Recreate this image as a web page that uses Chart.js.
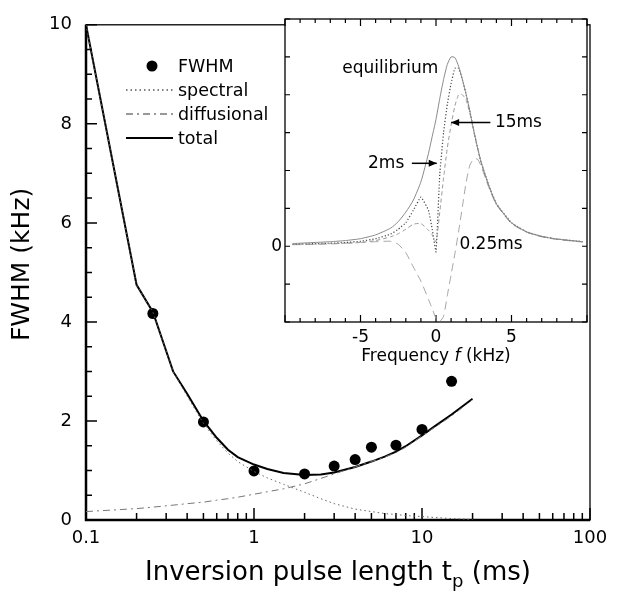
<!DOCTYPE html>
<html>
<head>
<meta charset="utf-8">
<script src="https://cdn.jsdelivr.net/npm/chart.js@4.4.0/dist/chart.umd.min.js"></script>
<style>
  html, body { margin: 0; padding: 0; background: #fff; }
  #wrap { position: relative; width: 633px; height: 597px; }
  #mainChart { position: absolute; left: 0; top: 0; }
  #insetChart { position: absolute; left: 240px; top: 0; }
</style>
</head>
<body>
<div id="wrap">
  <canvas id="mainChart" width="633" height="597"></canvas>
  <canvas id="insetChart" width="360" height="372"></canvas>
</div>
<script>
// ---- main panel data ----
const pulseMs = [0.25, 0.5, 1, 2, 3, 4, 5, 7, 10, 15];
const fwhmKHz = [4.17, 1.98, 0.99, 0.93, 1.09, 1.22, 1.47, 1.51, 1.83, 2.8];

const fitMs = [0.1, 0.2, 0.25, 0.33, 0.4, 0.5, 0.6, 0.7, 0.8, 1, 1.2, 1.5, 2, 2.5, 3, 4, 5, 6, 7, 8, 10, 12, 15, 20];
const totalFit = [10, 4.75, 4.2, 3.0, 2.55, 2.0, 1.66, 1.42, 1.27, 1.12, 1.03, 0.95, 0.91, 0.92, 0.96, 1.07, 1.18, 1.28, 1.38, 1.49, 1.71, 1.9, 2.13, 2.45];
const spectralFit = [10, 4.75, 4.2, 3.0, 2.5, 1.95, 1.6, 1.35, 1.18, 0.98, 0.85, 0.72, 0.56, 0.43, 0.33, 0.22, 0.17, 0.13, 0.11, 0.09, 0.07, 0.05, 0.03, 0.01];
const diffusionalFit = [0.17, 0.23, 0.26, 0.3, 0.33, 0.36, 0.4, 0.43, 0.46, 0.52, 0.57, 0.63, 0.73, 0.84, 0.93, 1.07, 1.18, 1.27, 1.36, 1.47, 1.7, 1.88, 2.1, 2.43];

const xMajorTicks = [0.1, 1, 10, 100];
const yMajorTicks = [0, 2, 4, 6, 8, 10];

// ---- inset data ----
const freqKHz = [-9.5, -8, -7, -6, -5, -4, -3, -2.5, -2, -1.5, -1, -0.5, -0.25, 0, 0.25, 0.5, 0.75, 1, 1.25, 1.5, 1.75, 2, 2.25, 2.5, 2.75, 3, 3.5, 4, 5, 6, 7, 8, 9.7];
const equilibrium = [0.07, 0.1, 0.12, 0.15, 0.2, 0.3, 0.48, 0.65, 0.9, 1.22, 1.7, 2.45, 2.9, 3.35, 3.9, 4.4, 4.8, 5.0, 4.98, 4.75, 4.4, 4.0, 3.55, 3.05, 2.6, 2.2, 1.6, 1.12, 0.62, 0.38, 0.26, 0.19, 0.12];
const spec2ms = [0.05, 0.07, 0.08, 0.1, 0.13, 0.2, 0.32, 0.45, 0.62, 0.95, 1.3, 0.95, 0.45, -0.15, 1.9, 3.0, 3.75, 4.3, 4.7, 4.7, 4.4, 4.0, 3.55, 3.05, 2.6, 2.2, 1.6, 1.12, 0.62, 0.38, 0.26, 0.19, 0.12];
const spec15ms = [0.05, 0.06, 0.07, 0.08, 0.1, 0.15, 0.25, 0.33, 0.45, 0.58, 0.6, 0.42, 0.3, 0.12, 0.9, 1.8, 2.6, 3.2, 3.7, 4.0, 4.0, 3.85, 3.5, 3.05, 2.6, 2.2, 1.6, 1.12, 0.62, 0.38, 0.26, 0.19, 0.12];
const spec025ms = [0.04, 0.05, 0.06, 0.08, 0.1, 0.12, 0.13, 0.05, -0.17, -0.55, -0.92, -1.4, -1.65, -1.9, -1.98, -1.85, -1.3, -0.75, -0.2, 0.4, 1.05, 1.7, 2.15, 2.3, 2.3, 2.1, 1.55, 1.1, 0.6, 0.37, 0.25, 0.18, 0.11];

const FONT = "'DejaVu Sans', sans-serif";

function pairs(xs, ys) {
  return xs.map((x, i) => ({ x: x, y: ys[i] }));
}

function decadeTicks(lo, hi) {
  const out = [];
  for (let d = lo; d < hi; d *= 10) {
    for (let k = 1; k < 10; k++) out.push(+(d * k).toPrecision(3));
  }
  out.push(hi);
  return out;
}

function arrow(ctx, x1, y1, x2, y2) {
  ctx.beginPath();
  ctx.moveTo(x1, y1);
  ctx.lineTo(x2, y2);
  ctx.stroke();
  const dir = Math.sign(x2 - x1);
  ctx.beginPath();
  ctx.moveTo(x2, y2);
  ctx.lineTo(x2 - dir * 8, y2 - 3.5);
  ctx.lineTo(x2 - dir * 8, y2 + 3.5);
  ctx.closePath();
  ctx.fill();
}

// frame, inward ticks, legend and titles of the main panel
const mainDecor = {
  id: 'mainDecor',
  beforeDatasetsDraw(chart) {
    const { ctx, chartArea: a, scales: { x, y } } = chart;
    ctx.save();
    ctx.strokeStyle = '#000';
    ctx.lineWidth = 1.3;
    ctx.strokeRect(a.left, a.top, a.right - a.left, a.bottom - a.top);
    ctx.lineWidth = 2.5;
    ctx.beginPath();
    ctx.moveTo(a.left, a.top);
    ctx.lineTo(a.left, a.bottom);
    ctx.lineTo(a.right, a.bottom);
    ctx.stroke();
    ctx.lineWidth = 1.5;
    ctx.beginPath();
    x.ticks.forEach(t => {
      const px = x.getPixelForValue(t.value);
      const len = xMajorTicks.includes(t.value) ? 12 : 7;
      ctx.moveTo(px, a.bottom);
      ctx.lineTo(px, a.bottom - len);
    });
    y.ticks.forEach(t => {
      const py = y.getPixelForValue(t.value);
      const len = yMajorTicks.includes(t.value) ? 11 : 6;
      ctx.moveTo(a.left, py);
      ctx.lineTo(a.left + len, py);
    });
    ctx.stroke();
    ctx.restore();
  },
  afterDraw(chart) {
    const { ctx, chartArea: a } = chart;
    const ds = chart.data.datasets;
    ctx.save();
    // legend
    ctx.font = '17.5px ' + FONT;
    ctx.fillStyle = '#000';
    ctx.textBaseline = 'middle';
    ctx.textAlign = 'left';
    const rows = [
      { label: 'FWHM', y: 66, ds: ds[3] },
      { label: 'spectral', y: 90, ds: ds[1], color: '#000' },
      { label: 'diffusional', y: 114, ds: ds[0], color: '#333' },
      { label: 'total', y: 138, ds: ds[2] }
    ];
    rows.forEach(r => {
      if (r.ds.showLine === false) {
        ctx.beginPath();
        ctx.arc(152, r.y, r.ds.pointRadius, 0, Math.PI * 2);
        ctx.fill();
      } else {
        ctx.beginPath();
        ctx.setLineDash(r.ds.borderDash || []);
        ctx.strokeStyle = r.color || r.ds.borderColor;
        ctx.lineWidth = r.ds.borderWidth;
        ctx.moveTo(126, r.y);
        ctx.lineTo(173, r.y);
        ctx.stroke();
        ctx.setLineDash([]);
      }
      ctx.fillText(r.label, 178, r.y + 1);
    });
    // x title with subscript
    ctx.textBaseline = 'alphabetic';
    const big = '26px ' + FONT, small = '18px ' + FONT;
    const s1 = 'Inversion pulse length t', s2 = 'p', s3 = ' (ms)';
    ctx.font = big;
    const w1 = ctx.measureText(s1).width, w3 = ctx.measureText(s3).width;
    ctx.font = small;
    const w2 = ctx.measureText(s2).width;
    let xs = (a.left + a.right) / 2 - (w1 + w2 + w3) / 2;
    const base = 580;
    ctx.font = big; ctx.fillText(s1, xs, base); xs += w1;
    ctx.font = small; ctx.fillText(s2, xs, base + 7); xs += w2;
    ctx.font = big; ctx.fillText(s3, xs, base);
    // y title
    ctx.translate(22, (a.top + a.bottom) / 2 - 8);
    ctx.rotate(-Math.PI / 2);
    ctx.textAlign = 'center';
    ctx.textBaseline = 'middle';
    ctx.font = '25px ' + FONT;
    ctx.fillText('FWHM (kHz)', 0, 0);
    ctx.restore();
  }
};

new Chart(document.getElementById('mainChart'), {
  type: 'line',
  data: {
    datasets: [
      {
        label: 'diffusional',
        data: pairs(fitMs, diffusionalFit),
        borderColor: '#777',
        borderWidth: 1,
        borderDash: [7, 4, 2, 4],
        pointRadius: 0,
        tension: 0
      },
      {
        label: 'spectral',
        data: pairs(fitMs, spectralFit),
        borderColor: '#666',
        borderWidth: 1,
        borderDash: [1.5, 3],
        pointRadius: 0,
        tension: 0
      },
      {
        label: 'total',
        data: pairs(fitMs, totalFit),
        borderColor: '#000',
        borderWidth: 2,
        pointRadius: 0,
        tension: 0
      },
      {
        label: 'FWHM',
        data: pairs(pulseMs, fwhmKHz),
        showLine: false,
        pointRadius: 5.5,
        pointBackgroundColor: '#000',
        pointBorderColor: '#000',
        pointBorderWidth: 0
      }
    ]
  },
  options: {
    responsive: false,
    animation: false,
    layout: { padding: { left: 0, top: 16, right: 43, bottom: 0 } },
    plugins: { legend: { display: false }, tooltip: { enabled: false } },
    scales: {
      x: {
        type: 'logarithmic',
        min: 0.1,
        max: 100,
        afterBuildTicks: s => { s.ticks = decadeTicks(0.1, 100).map(v => ({ value: v })); },
        afterFit: s => { s.height = 77; },
        grid: { display: false, drawTicks: false },
        border: { display: false },
        ticks: {
          autoSkip: false,
          maxRotation: 0,
          padding: 8,
          color: '#000',
          font: { family: FONT, size: 18 },
          callback: v => xMajorTicks.includes(v) ? String(v) : ''
        }
      },
      y: {
        min: 0,
        max: 10,
        afterBuildTicks: s => {
          const t = [];
          for (let v = 0; v <= 10; v += 0.5) t.push({ value: v });
          s.ticks = t;
        },
        afterFit: s => { s.width = 86; },
        grid: { display: false, drawTicks: false },
        border: { display: false },
        ticks: {
          autoSkip: false,
          padding: 14,
          color: '#000',
          font: { family: FONT, size: 18 },
          callback: v => yMajorTicks.includes(v) ? String(v) : ''
        }
      }
    }
  },
  plugins: [mainDecor]
});

// frame, ticks and notes of the inset
const insetDecor = {
  id: 'insetDecor',
  beforeDraw(chart) {
    const { ctx, chartArea: a } = chart;
    ctx.save();
    ctx.fillStyle = '#fff';
    ctx.fillRect(a.left, a.top, a.right - a.left, a.bottom - a.top);
    ctx.restore();
  },
  beforeDatasetsDraw(chart) {
    const { ctx, chartArea: a, scales: { x, y } } = chart;
    ctx.save();
    ctx.strokeStyle = '#000';
    ctx.lineWidth = 1.3;
    ctx.strokeRect(a.left, a.top, a.right - a.left, a.bottom - a.top);
    ctx.lineWidth = 1.2;
    ctx.beginPath();
    x.ticks.forEach(t => {
      const px = x.getPixelForValue(t.value);
      const len = t.value % 5 === 0 ? 7 : 4;
      ctx.moveTo(px, a.bottom); ctx.lineTo(px, a.bottom - len);
      ctx.moveTo(px, a.top); ctx.lineTo(px, a.top + len);
    });
    y.ticks.forEach(t => {
      const py = y.getPixelForValue(t.value);
      ctx.moveTo(a.left, py); ctx.lineTo(a.left + 5, py);
      ctx.moveTo(a.right, py); ctx.lineTo(a.right - 5, py);
    });
    ctx.stroke();
    ctx.restore();
  },
  afterDraw(chart) {
    const { ctx, chartArea: a, scales: { x, y } } = chart;
    ctx.save();
    ctx.fillStyle = '#000';
    ctx.strokeStyle = '#000';
    ctx.lineWidth = 1.5;
    ctx.font = '17px ' + FONT;
    ctx.textBaseline = 'middle';
    ctx.textAlign = 'right';
    ctx.fillText('equilibrium', x.getPixelForValue(0.15), y.getPixelForValue(4.7));
    ctx.fillText('2ms', x.getPixelForValue(-2.1), y.getPixelForValue(2.19));
    ctx.textAlign = 'left';
    ctx.fillText('15ms', x.getPixelForValue(3.9), y.getPixelForValue(3.27));
    ctx.fillText('0.25ms', x.getPixelForValue(1.55), y.getPixelForValue(0.05));
    arrow(ctx, x.getPixelForValue(3.6), y.getPixelForValue(3.27), x.getPixelForValue(1.0), y.getPixelForValue(3.27));
    arrow(ctx, x.getPixelForValue(-1.6), y.getPixelForValue(2.19), x.getPixelForValue(0.05), y.getPixelForValue(2.19));
    // axis title with italic f
    ctx.textAlign = 'left';
    ctx.textBaseline = 'alphabetic';
    const n = '17px ' + FONT, it = 'italic 17px ' + FONT;
    const p1 = 'Frequency ', p2 = 'f', p3 = ' (kHz)';
    ctx.font = n;
    const w1 = ctx.measureText(p1).width, w3 = ctx.measureText(p3).width;
    ctx.font = it;
    const w2 = ctx.measureText(p2).width;
    let xs = x.getPixelForValue(0) - (w1 + w2 + w3) / 2;
    const base = a.bottom + 39;
    ctx.font = n; ctx.fillText(p1, xs, base); xs += w1;
    ctx.font = it; ctx.fillText(p2, xs, base); xs += w2;
    ctx.font = n; ctx.fillText(p3, xs, base);
    ctx.restore();
  }
};

new Chart(document.getElementById('insetChart'), {
  type: 'line',
  data: {
    datasets: [
      {
        label: 'equilibrium',
        data: pairs(freqKHz, equilibrium),
        borderColor: '#8a8a8a',
        borderWidth: 1,
        pointRadius: 0,
        tension: 0.2
      },
      {
        label: '15ms',
        data: pairs(freqKHz, spec15ms),
        borderColor: '#9a9a9a',
        borderWidth: 1,
        borderDash: [4, 3],
        pointRadius: 0,
        tension: 0.2
      },
      {
        label: '2ms',
        data: pairs(freqKHz, spec2ms),
        borderColor: '#444',
        borderWidth: 1.2,
        borderDash: [1.2, 2],
        pointRadius: 0,
        tension: 0.1
      },
      {
        label: '0.25ms',
        data: pairs(freqKHz, spec025ms),
        borderColor: '#a5a5a5',
        borderWidth: 1,
        borderDash: [8, 5],
        pointRadius: 0,
        tension: 0.2
      }
    ]
  },
  options: {
    responsive: false,
    animation: false,
    layout: { padding: { left: 0, top: 19, right: 13, bottom: 0 } },
    plugins: { legend: { display: false }, tooltip: { enabled: false } },
    scales: {
      x: {
        type: 'linear',
        min: -10,
        max: 10,
        afterBuildTicks: s => {
          const t = [];
          for (let v = -10; v <= 10; v++) t.push({ value: v });
          s.ticks = t;
        },
        afterFit: s => { s.height = 50; },
        grid: { display: false, drawTicks: false },
        border: { display: false },
        ticks: {
          autoSkip: false,
          maxRotation: 0,
          padding: 5,
          color: '#000',
          font: { family: FONT, size: 17 },
          callback: v => (v === -5 || v === 0 || v === 5) ? String(v) : ''
        }
      },
      y: {
        min: -2,
        max: 6,
        afterBuildTicks: s => {
          const t = [];
          for (let v = -2; v <= 6; v++) t.push({ value: v });
          s.ticks = t;
        },
        afterFit: s => { s.width = 45; },
        grid: { display: false, drawTicks: false },
        border: { display: false },
        ticks: {
          autoSkip: false,
          padding: 3,
          color: '#000',
          font: { family: FONT, size: 17 },
          callback: v => v === 0 ? '0' : ''
        }
      }
    }
  },
  plugins: [insetDecor]
});
</script>
</body>
</html>
